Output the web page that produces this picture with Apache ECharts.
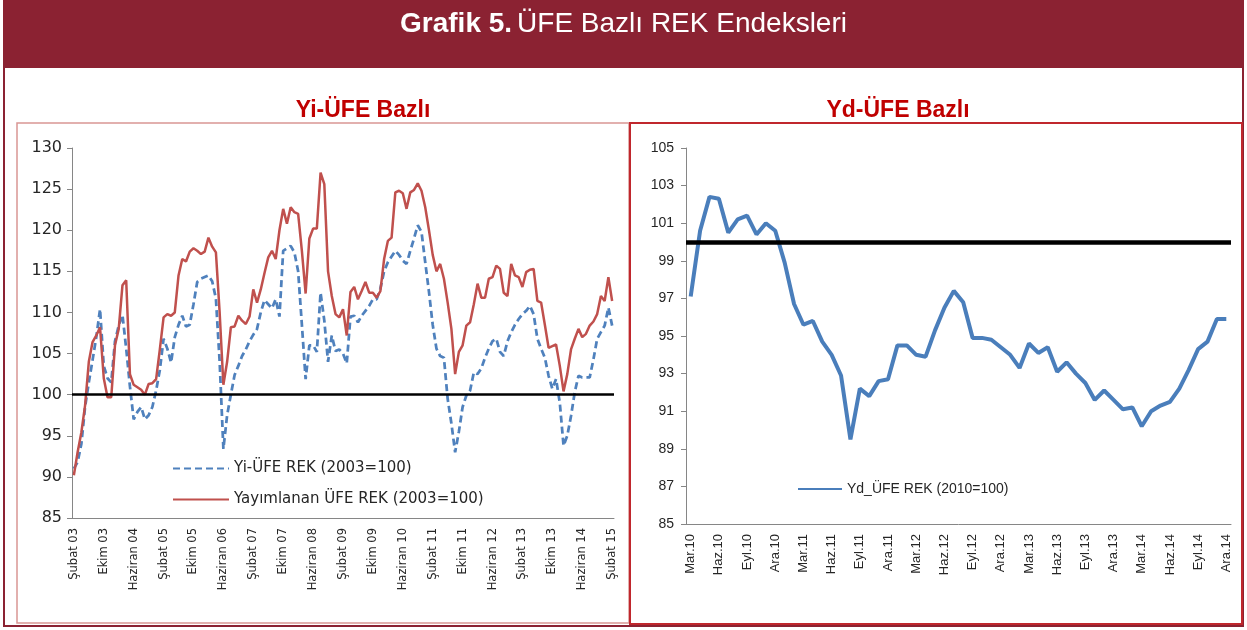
<!DOCTYPE html>
<html>
<head>
<meta charset="utf-8">
<title>Grafik 5. ÜFE Bazlı REK Endeksleri</title>
<script src="https://cdn.jsdelivr.net/npm/echarts@6/dist/echarts.min.js"></script>
<style>
  html, body { margin: 0; padding: 0; background: #ffffff; }
  #chart { width: 1247px; height: 630px; }
</style>
</head>
<body>
<div id="chart"></div>
<script>
// month names used for the category axes
const ayUzun = ['Ocak', 'Şubat', 'Mart', 'Nisan', 'Mayıs', 'Haziran', 'Temmuz', 'Ağustos', 'Eylül', 'Ekim', 'Kasım', 'Aralık'];
const ayKisa = ['Oca', 'Şub', 'Mar', 'Nis', 'May', 'Haz', 'Tem', 'Ağu', 'Eyl', 'Eki', 'Kas', 'Ara'];

// left panel: Yi-ÜFE based indices, monthly Şubat 03 .. Şubat 15
const yiUfeRek = [
  91.0, 91.8, 94.0, 98.5, 101.5, 104.2, 107.0, 110.4, 103.5, 102.0,
  101.5, 106.5, 108.4, 109.7, 105.6, 101.0, 97.0, 97.9, 98.5, 97.0,
  97.5, 98.5, 100.5, 103.0, 106.8, 105.6, 103.9, 107.0, 108.5, 109.6,
  108.3, 108.5, 111.0, 113.7, 114.1, 114.3, 114.5, 113.8, 111.7, 104.0,
  93.4, 97.5, 100.0, 102.4, 103.5, 104.7, 105.5, 106.5, 107.3, 108.0,
  110.0, 111.5, 111.0, 110.5, 111.6, 109.5, 117.5, 117.8, 118.1, 117.3,
  115.0, 108.5, 101.9, 106.0, 106.0, 105.2, 112.4, 109.0, 104.0, 107.2,
  105.3, 105.5, 105.0, 103.8, 109.5, 109.6, 108.8, 109.6, 110.2, 110.8,
  111.6, 111.6, 112.9, 115.0, 116.1, 116.8, 117.5, 117.0, 116.3, 115.9,
  117.5, 119.0, 120.6, 119.8, 116.1, 112.5, 108.5, 105.6, 104.7, 104.5,
  99.5, 96.5, 93.0, 95.5, 98.5, 99.9, 100.5, 102.7, 102.5, 103.2,
  104.5, 105.6, 106.5, 106.8, 105.2, 104.7, 106.5, 107.6, 108.5, 109.2,
  109.8, 110.2, 110.8, 109.8, 106.8, 105.6, 104.5, 102.3, 100.7, 101.9,
  99.0, 93.8, 95.0, 97.4, 100.3, 102.3, 102.1, 102.1, 102.1, 104.3,
  106.8, 107.6, 108.4, 110.6, 108.4
];
const yayimlananRek = [
  90.2, 93.0, 95.4, 98.7, 104.0, 106.4, 107.2, 108.2, 102.0, 99.7,
  99.7, 106.0, 108.0, 113.3, 113.9, 102.5, 101.2, 100.9, 100.6, 100.0,
  101.3, 101.4, 101.9, 105.5, 109.4, 109.8, 109.6, 110.0, 114.5, 116.5,
  116.2, 117.4, 117.8, 117.5, 117.1, 117.4, 119.1, 118.0, 117.3, 110.0,
  101.2, 104.0, 108.2, 108.3, 109.6, 109.0, 108.6, 109.5, 112.8, 111.2,
  112.8, 114.8, 116.7, 117.5, 116.5, 120.0, 122.6, 120.8, 122.8, 122.2,
  122.0, 117.5, 112.3, 119.0, 120.2, 120.2, 127.0, 125.6, 115.0, 112.0,
  109.8, 109.4, 110.4, 107.2, 112.5, 113.1, 111.6, 112.6, 113.7, 112.4,
  112.4, 111.8, 112.6, 116.5, 118.7, 119.1, 124.6, 124.8, 124.5, 122.6,
  124.6, 124.9, 125.7, 124.8, 122.8, 120.0, 117.0, 115.0, 115.9, 114.1,
  111.2, 108.0, 102.5, 105.2, 106.0, 108.4, 108.8, 111.0, 113.5, 111.8,
  111.8, 114.1, 114.3, 115.7, 115.3, 112.4, 112.0, 115.9, 114.5, 114.3,
  113.1, 114.9, 115.2, 115.3, 111.4, 111.2, 108.5, 105.7, 105.9, 106.1,
  103.5, 100.4, 102.5, 105.5, 106.8, 108.0, 107.0, 107.4, 108.4, 108.9,
  109.8, 112.0, 111.4, 114.3, 111.4
];

// right panel: Yd-ÜFE based index, monthly Mar.10 .. Ara.14
const ydUfeRek = [
  97.1, 100.6, 102.4, 102.3, 100.5, 101.2, 101.4, 100.4, 101.0, 100.6,
  98.9, 96.7, 95.6, 95.8, 94.7, 94.0, 92.9, 89.5, 92.2, 91.8,
  92.6, 92.7, 94.5, 94.5, 94.0, 93.9, 95.3, 96.5, 97.4, 96.8,
  94.9, 94.9, 94.8, 94.4, 94.0, 93.3, 94.6, 94.1, 94.4, 93.1,
  93.6, 93.0, 92.5, 91.6, 92.1, 91.6, 91.1, 91.2, 90.2, 91.0,
  91.3, 91.5, 92.2, 93.2, 94.3, 94.7, 95.9, 95.9
];

const referans = 100;

// category labels
const solAylar = [];
for (let i = 0; i < yiUfeRek.length; i++) {
  const m = (1 + i) % 12;
  const y = 3 + Math.floor((1 + i) / 12);
  solAylar.push(ayUzun[m] + ' ' + String(y).padStart(2, '0'));
}
const sagAylar = [];
for (let i = 0; i < ydUfeRek.length; i++) {
  const m = (2 + i) % 12;
  const y = 10 + Math.floor((2 + i) / 12);
  sagAylar.push(ayKisa[m] + '.' + y);
}

const koyuKirmizi = '#8B2232';
const axisGray = '#868686';
const narrow = "'Liberation Sans Narrow', 'Liberation Sans', sans-serif";

const chart = echarts.init(document.getElementById('chart'), null, { renderer: 'canvas' });

const option = {
  animation: false,
  backgroundColor: '#ffffff',
  title: [
    {
      text: '{b|Grafik 5.} {n|ÜFE Bazlı REK Endeksleri}',
      left: 'center',
      top: 5,
      textStyle: {
        fontWeight: 'normal',
        rich: {
          b: { fontFamily: 'Liberation Sans', fontWeight: 'bold', fontSize: 28, color: '#ffffff' },
          n: { fontFamily: 'Liberation Sans', fontWeight: 'normal', fontSize: 28, color: '#ffffff' }
        }
      }
    },
    {
      text: 'Yi-ÜFE Bazlı',
      left: 358,
      top: 94,
      textAlign: 'center',
      textStyle: { fontFamily: 'Liberation Sans', fontWeight: 'bold', fontSize: 23, color: '#C00000' }
    },
    {
      text: 'Yd-ÜFE Bazlı',
      left: 893,
      top: 94,
      textAlign: 'center',
      textStyle: { fontFamily: 'Liberation Sans', fontWeight: 'bold', fontSize: 23, color: '#C00000' }
    }
  ],
  // frames around the figure and both panels
  graphic: [
    { type: 'rect', silent: true, z: -10, shape: { x: 3, y: 0, width: 1241, height: 68 }, style: { fill: koyuKirmizi } },
    { type: 'rect', silent: true, z: -10, shape: { x: 4, y: 0, width: 1239, height: 626 }, style: { fill: 'none', stroke: koyuKirmizi, lineWidth: 2 } },
    { type: 'rect', silent: true, z: -9, shape: { x: 17, y: 123, width: 612, height: 500 }, style: { fill: 'none', stroke: '#D99694', lineWidth: 1.5 } },
    { type: 'rect', silent: true, z: -9, shape: { x: 630, y: 123, width: 612, height: 501 }, style: { fill: 'none', stroke: '#C0272D', lineWidth: 2 } }
  ],
  legend: [
    {
      orient: 'vertical',
      left: 167,
      top: 456,
      itemWidth: 56,
      itemHeight: 12,
      itemGap: 16,
      itemStyle: { opacity: 0 },
      data: ['Yi-ÜFE REK (2003=100)', 'Yayımlanan ÜFE REK (2003=100)'],
      textStyle: { fontFamily: 'DejaVu Sans', fontSize: 15, color: '#262626' }
    },
    {
      left: 792,
      top: 477,
      itemWidth: 44,
      itemHeight: 12,
      itemStyle: { opacity: 0 },
      data: ['Yd_ÜFE REK (2010=100)'],
      textStyle: { fontFamily: narrow, fontSize: 14, color: '#262626' }
    }
  ],
  grid: [
    { left: 72, top: 148, width: 542, height: 370 },
    { left: 686, top: 148, width: 545, height: 376 }
  ],
  xAxis: [
    {
      type: 'category',
      gridIndex: 0,
      data: solAylar,
      boundaryGap: true,
      axisLine: { lineStyle: { color: axisGray, width: 1 } },
      axisTick: { interval: 7, length: 5, lineStyle: { color: axisGray } },
      axisLabel: { interval: 7, rotate: 90, margin: 10, fontFamily: 'DejaVu Sans', fontSize: 11.5, color: '#262626' }
    },
    {
      type: 'category',
      gridIndex: 1,
      data: sagAylar,
      boundaryGap: true,
      axisLine: { lineStyle: { color: axisGray, width: 1 } },
      axisTick: { interval: 2, length: 5, lineStyle: { color: axisGray } },
      axisLabel: { interval: 2, rotate: 90, margin: 10, fontFamily: narrow, fontSize: 13, color: '#262626' }
    }
  ],
  yAxis: [
    {
      type: 'value',
      gridIndex: 0,
      min: 85,
      max: 130,
      interval: 5,
      axisLine: { show: true, lineStyle: { color: axisGray, width: 1 } },
      axisTick: { show: true, length: 5, lineStyle: { color: axisGray } },
      splitLine: { show: false },
      axisLabel: { margin: 10, fontFamily: 'DejaVu Sans', fontSize: 16, color: '#262626' }
    },
    {
      type: 'value',
      gridIndex: 1,
      min: 85,
      max: 105,
      interval: 2,
      axisLine: { show: true, lineStyle: { color: axisGray, width: 1 } },
      axisTick: { show: true, length: 5, lineStyle: { color: axisGray } },
      splitLine: { show: false },
      axisLabel: { margin: 12, fontFamily: narrow, fontSize: 14, color: '#262626' }
    }
  ],
  series: [
    {
      name: 'Yi-ÜFE REK (2003=100)',
      type: 'line',
      xAxisIndex: 0,
      yAxisIndex: 0,
      data: yiUfeRek,
      symbol: 'none',
      z: 3,
      color: '#4F81BD',
      lineStyle: { color: '#4F81BD', width: 2.75, type: [7, 4] }
    },
    {
      name: 'Yayımlanan ÜFE REK (2003=100)',
      type: 'line',
      xAxisIndex: 0,
      yAxisIndex: 0,
      data: yayimlananRek,
      symbol: 'none',
      z: 4,
      color: '#C0504D',
      lineStyle: { color: '#C0504D', width: 2.5 },
      markLine: {
        silent: true,
        symbol: 'none',
        label: { show: false },
        lineStyle: { color: '#000000', width: 2.5, type: 'solid' },
        data: [{ yAxis: referans }]
      }
    },
    {
      name: 'Yd_ÜFE REK (2010=100)',
      type: 'line',
      xAxisIndex: 1,
      yAxisIndex: 1,
      data: ydUfeRek,
      symbol: 'none',
      color: '#4A7EBB',
      lineStyle: { color: '#4A7EBB', width: 4 },
      markLine: {
        silent: true,
        symbol: 'none',
        label: { show: false },
        lineStyle: { color: '#000000', width: 4.5, type: 'solid' },
        data: [{ yAxis: referans }]
      }
    }
  ]
};

chart.setOption(option);
</script>
</body>
</html>
